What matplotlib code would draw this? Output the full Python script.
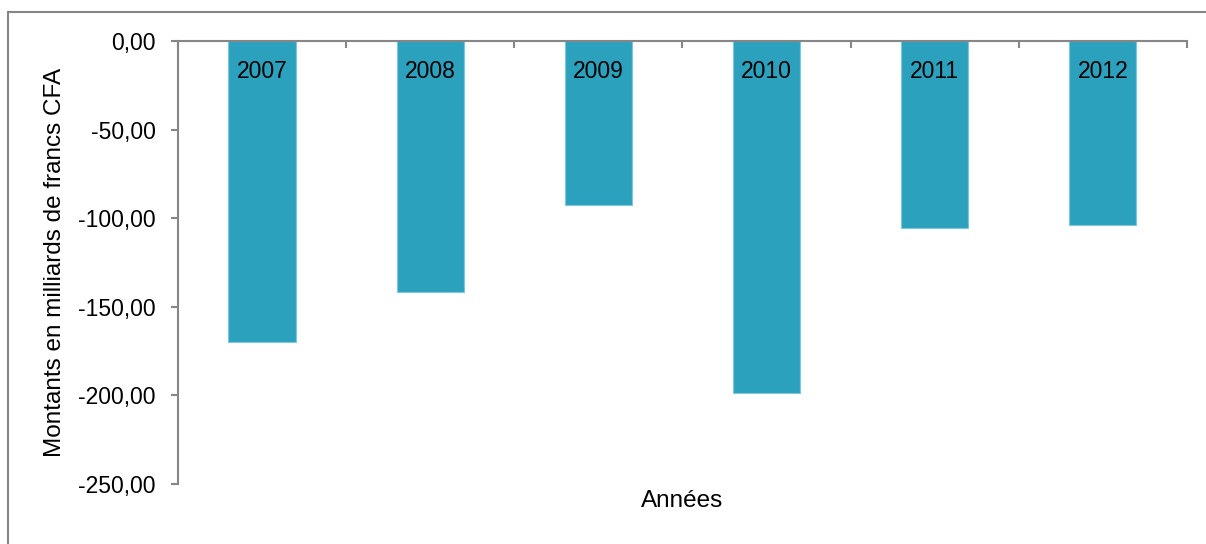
import matplotlib.pyplot as plt
from matplotlib.patches import Rectangle
from matplotlib.ticker import FuncFormatter

annees = ["2007", "2008", "2009", "2010", "2011", "2012"]
montants = [-170.1, -141.9, -92.4, -198.6, -105.6, -104.1]
yticks = [0, -50, -100, -150, -200, -250]

plt.rcParams['font.family'] = ['Liberation Sans', 'DejaVu Sans']

fig = plt.figure(figsize=(12.06, 5.44), dpi=100)
ax = fig.add_axes([0.1476, 0.1103, 0.8366, 0.8143])

# cadre du graphique (coupe en bas et a droite)
fig.patches.append(Rectangle((8 / 1206, -0.2), 1.2, 1.2 - 12 / 544,
                             transform=fig.transFigure, fill=False,
                             edgecolor='#868686', linewidth=1.5))

x = list(range(len(annees)))
ax.bar(x, montants, width=0.4, color='#2CA1BE', edgecolor='#7FC6DA', linewidth=0.8)

for i, a in enumerate(annees):
    ax.text(i, -17, a, ha='center', va='center', fontsize=16.5, color='black')

ax.set_xlim(-0.5, 5.5)
ax.set_ylim(-250, 0)

ax.set_yticks(yticks)
ax.yaxis.set_major_formatter(FuncFormatter(lambda v, p: f"{v:.2f}".replace('.', ',')))
ax.tick_params(axis='y', direction='out', length=5, width=1.5, color='#868686',
               labelsize=16.5, pad=11)

ax.xaxis.set_ticks_position('top')
ax.set_xticks([i - 0.5 for i in range(len(annees) + 1)])
ax.set_xticklabels([])
ax.tick_params(axis='x', direction='in', length=5, width=1.5, color='#868686')

for s in ['bottom', 'right']:
    ax.spines[s].set_visible(False)
for s in ['top', 'left']:
    ax.spines[s].set_color('#868686')
    ax.spines[s].set_linewidth(1.5)

ax.set_ylabel("Montants en milliards de francs CFA", fontsize=17.5, labelpad=9)
fig.text(0.5655, 1 - 501 / 544, "Années", ha='center', va='center', fontsize=17.5)

fig.savefig("out.png", dpi=100)
